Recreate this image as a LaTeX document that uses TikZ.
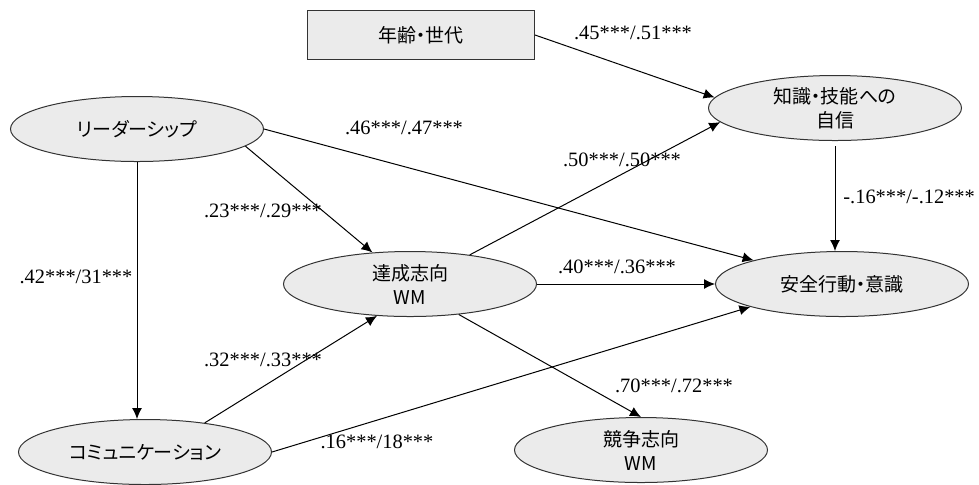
\documentclass[tikz,border=0pt]{standalone}
\usepackage{fontspec}
\setmainfont{Liberation Serif}
\newfontfamily\jpfont[RawFeature=+palt]{Noto Sans CJK JP}
\usetikzlibrary{shapes.geometric,arrows.meta}
\definecolor{boxgray}{HTML}{EBEBEB}
\definecolor{edgegray}{HTML}{333333}
\tikzset{
  latent/.style={ellipse, draw=edgegray, fill=boxgray, line width=0.5pt,
    minimum width=126.5pt, minimum height=32.5pt, inner sep=0pt, align=center,
    font=\jpfont\fontsize{9.5}{12}\selectfont},
  observed/.style={rectangle, draw=edgegray, fill=boxgray, line width=0.5pt,
    minimum width=113.5pt, minimum height=24.5pt, inner sep=0pt,
    font=\jpfont\fontsize{9.5}{12}\selectfont},
  coef/.style={inner sep=0pt, font=\fontsize{10.2}{12}\selectfont},
  arr/.style={-{Latex[length=5.5pt,width=5pt]}, line width=0.5pt}
}
\begin{document}
\begin{tikzpicture}[x=0.5pt, y=-0.5pt]
            \useasboundingbox (0, 0) rectangle (979, 484);

            % variables
            \node[observed] (age) at (421, 35) {年齢・世代};
            \node[latent] (lead) at (137, 129) {リーダーシップ};
            \node[latent] (comm) at (145, 452) {コミュニケーション};
            \node[latent] (achv) at (410, 284) {達成志向\\WM};
            \node[latent] (conf) at (835, 108) {知識・技能への\\自信};
            \node[latent] (safe) at (842, 284) {安全行動・意識};
            \node[latent] (comp) at (641, 450) {競争志向\\WM};

            % paths
            \draw[arr] (age.east) -- (conf.175);
            \draw[arr] (lead.east) -- (safe.165);
            \draw[arr] (lead.-9) -- (achv.140);
            \draw[arr] (lead.south) -- (lead.south |- comm.north);
            \draw[arr] (achv.26) -- (conf.-173);
            \draw[arr] (achv.east) -- (safe.west);
            \draw[arr] (achv.-32) -- (comp.north);
            \draw[arr] (comm.26) -- (achv.-136);
            \draw[arr] (comm.east) -- (safe.-166);
            \draw[arr, shorten <=2.5pt] (conf.south) -- (conf.south |- safe.north);

            % coefficients
            \node[coef] (c-age-conf) at (633, 33) {.45***/.51***};
            \node[coef] (c-lead-safe) at (404, 128) {.46***/.47***};
            \node[coef] (c-lead-achv) at (263, 211) {.23***/.29***};
            \node[coef, anchor=west] (c-conf-safe) at (843, 197) {-.16***/-.12***};
            \node[coef] (c-lead-comm) at (76, 277) {.42***/31***};
            \node[coef] (c-achv-conf) at (622, 160) {.50***/.50***};
            \node[coef] (c-achv-safe) at (617, 267) {.40***/.36***};
            \node[coef] (c-comm-achv) at (263, 360) {.32***/.33***};
            \node[coef] (c-achv-comp) at (674, 386) {.70***/.72***};
            \node[coef] (c-comm-safe) at (377, 442) {.16***/18***};
\end{tikzpicture}
\end{document}
